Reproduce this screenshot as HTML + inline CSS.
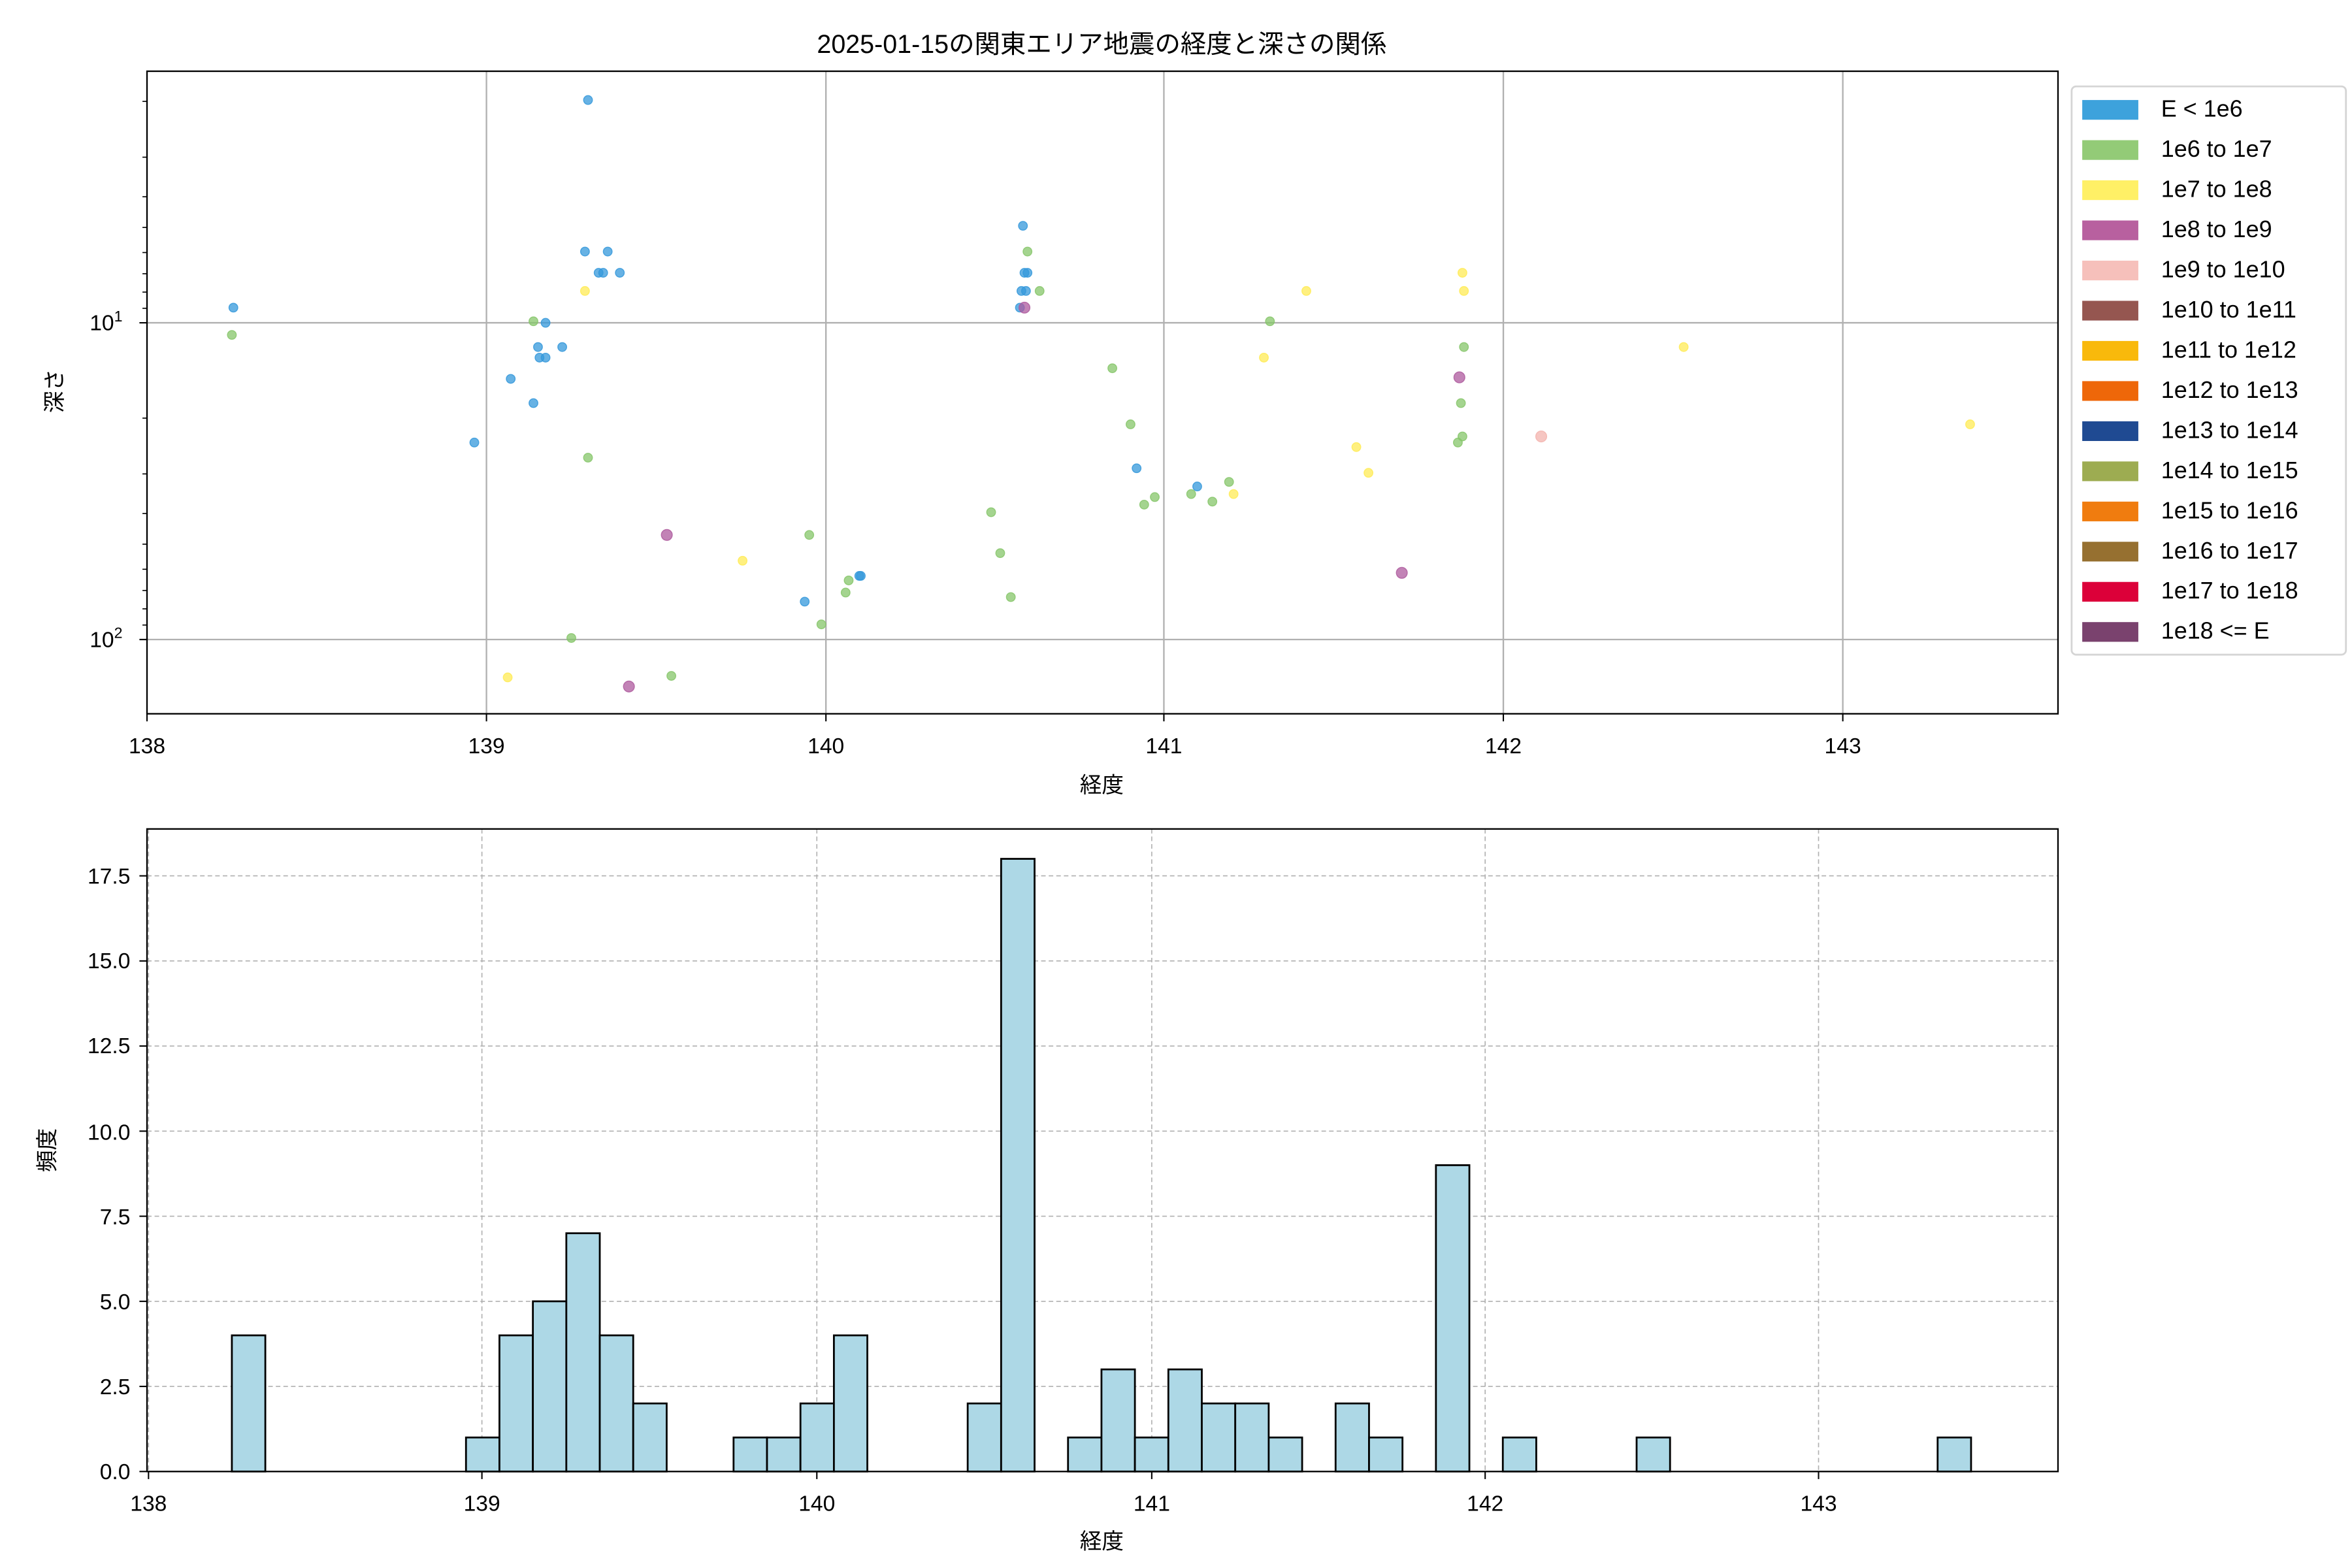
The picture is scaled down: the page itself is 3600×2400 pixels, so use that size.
<!DOCTYPE html>
<html><head><meta charset="utf-8"><style>
html,body{margin:0;padding:0;background:#fff;}
svg{display:block;}
text{font-family:"Liberation Sans","Noto Sans CJK JP",sans-serif;fill:#000;}
</style></head><body>
<svg id="s" width="3600" height="2400" viewBox="0 0 1552 1034.67" xmlns="http://www.w3.org/2000/svg">
<rect width="1552" height="1035" fill="#fff"/>
<text x="727" y="35" font-size="17" text-anchor="middle">2025-01-15の関東エリア地震の経度と深さの関係</text>
<g id="gtop"></g>
<g id="gbot"></g>
<g font-size="14.5" text-anchor="middle">
<text x="97" y="497">138</text><text x="321" y="497">139</text><text x="545" y="497">140</text>
<text x="768" y="497">141</text><text x="992" y="497">142</text><text x="1216" y="497">143</text>
<text x="98" y="997">138</text><text x="318" y="997">139</text><text x="539" y="997">140</text>
<text x="760" y="997">141</text><text x="980" y="997">142</text><text x="1200" y="997">143</text>
</g>
<text x="70" y="218" font-size="14.5" text-anchor="middle">10<tspan font-size="10" dy="-6">1</tspan></text>
<text x="70" y="427" font-size="14.5" text-anchor="middle">10<tspan font-size="10" dy="-6">2</tspan></text>
<g font-size="14.5" text-anchor="end">
<text x="86" y="976">0.0</text><text x="86" y="920">2.5</text><text x="86" y="864">5.0</text>
<text x="86" y="808">7.5</text><text x="86" y="752">10.0</text><text x="86" y="695">12.5</text>
<text x="86" y="639">15.0</text><text x="86" y="583">17.5</text>
</g>
<text x="727" y="523" font-size="14.5" text-anchor="middle">経度</text>
<text x="727" y="1022" font-size="14.5" text-anchor="middle">経度</text>
<text transform="translate(41,258) rotate(-90)" font-size="14.5" text-anchor="middle">深さ</text>
<text transform="translate(36,759) rotate(-90)" font-size="14.5" text-anchor="middle">頻度</text>
<rect x="1367" y="57" width="181" height="375" rx="3" fill="#fff" stroke="#d5d5d5" stroke-width="1.2"/>
<g id="leg" font-size="15.5">
<text x="1426" y="77">E &lt; 1e6</text>
<text x="1426" y="103.5">1e6 to 1e7</text>
<text x="1426" y="130">1e7 to 1e8</text>
<text x="1426" y="156.5">1e8 to 1e9</text>
<text x="1426" y="183">1e9 to 1e10</text>
<text x="1426" y="209.5">1e10 to 1e11</text>
<text x="1426" y="236">1e11 to 1e12</text>
<text x="1426" y="262.5">1e12 to 1e13</text>
<text x="1426" y="289">1e13 to 1e14</text>
<text x="1426" y="315.5">1e14 to 1e15</text>
<text x="1426" y="342">1e15 to 1e16</text>
<text x="1426" y="368.5">1e16 to 1e17</text>
<text x="1426" y="395">1e17 to 1e18</text>
<text x="1426" y="421.5">1e18 &lt;= E</text>
</g>
</svg>
<script>
(function(){
var NS="http://www.w3.org/2000/svg";
function el(p,t,a){var e=document.createElementNS(NS,t);for(var k in a)e.setAttribute(k,a[k]);p.appendChild(e);return e;}
var gT=document.getElementById('gtop'),gB=document.getElementById('gbot'),svg=document.getElementById('s');
[321,545,768,992,1216].forEach(function(x){el(gT,'line',{x1:x,x2:x,y1:47,y2:471,stroke:'#b0b0b0','stroke-width':1});});
[213,422].forEach(function(y){el(gT,'line',{x1:97,x2:1358,y1:y,y2:y,stroke:'#b0b0b0','stroke-width':1});});
[97,321,545,768,992,1216].forEach(function(x){el(gT,'line',{x1:x,x2:x,y1:471,y2:476,stroke:'#000','stroke-width':0.9});});
[213,422].forEach(function(y){el(gT,'line',{x1:92,x2:97,y1:y,y2:y,stroke:'#000','stroke-width':0.9});});
[2,3,4,5,6,7,8,9,20,30,40,50,60,70,80,90].forEach(function(d){var y=213+209*Math.log10(d/10);if(y>47&&y<471)el(gT,'line',{x1:94,x2:97,y1:y,y2:y,stroke:'#000','stroke-width':0.7});});
var C={b:'#3498db',g:'#86c66a',y:'#ffeb55',p:'#ae5a9e',k:'#f3b3ad'};
var pts=[['b',388,66],['b',154,203],['b',386,166],['b',401,166],['b',395,180],['b',398,180],['b',409,180],['b',360,213],['b',355,229],['b',371,229],['b',356,236],['b',360,236],['b',337,250],['b',352,266],['b',313,292],['b',675,149],['b',678,180],['b',676,180],['b',674,192],['b',677,192],['b',673,203],['b',750,309],['b',790,321],['b',531,397],['b',567,380],['b',568,380],
['g',153,221],['g',352,212],['g',388,302],['g',377,421],['g',443,446],['g',678,166],['g',686,192],['g',838,212],['g',734,243],['g',966,229],['g',964,266],['g',746,280],['g',965,288],['g',962,292],['g',811,318],['g',786,326],['g',762,328],['g',755,333],['g',800,331],['g',654,338],['g',534,353],['g',660,365],['g',560,383],['g',558,391],['g',542,412],['g',667,394],
['y',386,192],['y',965,180],['y',966,192],['y',862,192],['y',1111,229],['y',834,236],['y',1300,280],['y',895,295],['y',903,312],['y',814,326],['y',490,370],['y',335,447],
['p',676,203],['p',963,249],['p',440,353],['p',925,378],['p',415,453],['k',1017,288]];
pts.forEach(function(p){var r=(p[0]=='p'||p[0]=='k')?3.6:2.9;el(gT,'circle',{cx:p[1],cy:p[2],r:r,fill:C[p[0]],stroke:C[p[0]],'stroke-width':0.6,'fill-opacity':0.75,'stroke-opacity':0.85});});
el(gT,'rect',{x:97,y:47,width:1261,height:424,fill:'none',stroke:'#000','stroke-width':1});
var gx=[98,318,539,760,980,1200];
gx.forEach(function(x){el(gB,'line',{x1:x,x2:x,y1:547,y2:971,stroke:'#b0b0b0','stroke-width':0.7,'stroke-dasharray':'3,2'});el(gB,'line',{x1:x,x2:x,y1:971,y2:976,stroke:'#000','stroke-width':0.9});});
for(var i=0;i<8;i++){var y=971-i*2.5*22.46;el(gB,'line',{x1:97,x2:1358,y1:y,y2:y,stroke:'#b0b0b0','stroke-width':0.7,'stroke-dasharray':'3,2'});el(gB,'line',{x1:92,x2:97,y1:y,y2:y,stroke:'#000','stroke-width':0.9});}
var bins={0:4,7:1,8:4,9:5,10:7,11:4,12:2,15:1,16:1,17:2,18:4,22:2,23:18,25:1,26:3,27:1,28:3,29:2,30:2,31:1,33:2,34:1,36:9,38:1,42:1,51:1};
for(var k in bins){var x=153+k*22.07,h=bins[k]*22.46;el(gB,'rect',{x:x,y:971-h,width:22.07,height:h,fill:'#add8e6',stroke:'#000','stroke-width':1.2});}
el(gB,'rect',{x:97,y:547,width:1261,height:424,fill:'none',stroke:'#000','stroke-width':1});
var lc=['#3da2dc','#93cb77','#fff066','#b8609f','#f6c0bb','#955650','#f9b90b','#ee6709','#1f4a92','#9dac51','#f07c0f','#967030','#dc0039','#7a426e'];
lc.forEach(function(c,i){el(svg,'rect',{x:1374,y:66+i*26.5,width:37,height:13,fill:c});});
})();
</script>
</body></html>
